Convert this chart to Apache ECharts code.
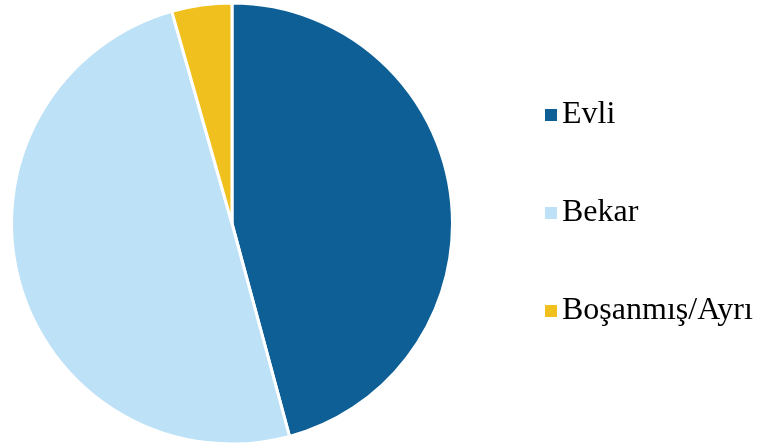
<!DOCTYPE html>
<html>
<head>
<meta charset="utf-8">
<script src="https://cdn.jsdelivr.net/npm/echarts@6/dist/echarts.min.js"></script>
<style>
  html, body { margin: 0; padding: 0; background: #fff; }
  #chart { width: 765px; height: 448px; }
</style>
</head>
<body>
<div id="chart"></div>
<script>
const categories = ['Evli', 'Bekar', 'Boşanmış/Ayrı']
const values = [45.8, 49.8, 4.4]
const colors = ['#0d5f96', '#bde1f6', '#f0c11e']

const chart = echarts.init(document.getElementById('chart'), null, { renderer: 'canvas' })

chart.setOption({
  backgroundColor: '#fff',
  animation: false,
  legend: {
    orient: 'vertical',
    left: 540,
    top: 94,
    itemWidth: 12,
    itemHeight: 12,
    itemGap: 66,
    itemStyle: { borderWidth: 0 },
    icon: 'rect',
    textStyle: {
      fontFamily: 'Times New Roman',
      fontSize: 32,
      color: '#000',
    },
    data: categories,
  },
  series: [
    {
      type: 'pie',
      center: [232, 223.5],
      radius: [0, 220.5],
      startAngle: 90,
      clockwise: true,
      label: { show: false },
      labelLine: { show: false },
      itemStyle: { borderColor: '#fff', borderWidth: 3 },
      emphasis: { disabled: true },
      data: categories.map((name, i) => ({
        name,
        value: values[i],
        itemStyle: { color: colors[i] },
      })),
    },
  ],
})
</script>
</body>
</html>
